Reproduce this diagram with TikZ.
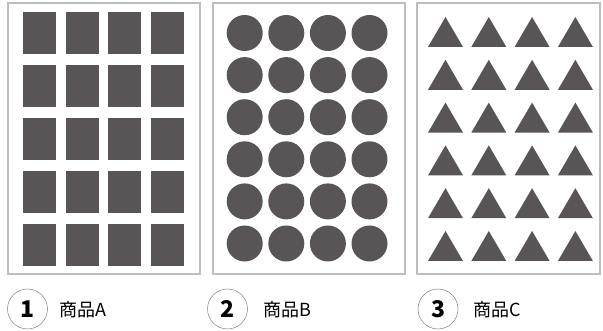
\documentclass[tikz,border=0pt]{standalone}
\usepackage{fontspec}
\newfontfamily\cjk{Noto Sans CJK JP}
\definecolor{shapegray}{RGB}{89,85,86}
\definecolor{framegray}{RGB}{190,190,190}
\definecolor{ringgray}{RGB}{130,130,130}
\begin{document}
\begin{tikzpicture}[x=1pt,y=-1pt,
  panel/.style={draw=framegray,line width=1.3pt,fill=white},
  piece/.style={fill=shapegray},
  numring/.style={circle,draw=ringgray,line width=0.5pt,minimum size=40pt,inner sep=0pt,font=\cjk\bfseries\fontsize{23}{23}\selectfont},
  caption/.style={anchor=west,inner sep=0pt,font=\cjk\fontsize{18}{18}\selectfont}]
\useasboundingbox (0,0) rectangle (603,331);
\fill[white] (0,0) rectangle (603,331);
% panels
\draw[panel] (8,3) rectangle (200,274);
\draw[panel] (213,3) rectangle (405,274);
\draw[panel] (417,3) rectangle (600,274);
% rectangles
\foreach \i in {0,...,3}{
  \foreach \j in {0,...,4}{
    \fill[piece] ({23+42.5*\i},{12+53*\j}) rectangle ++(33,42);
  }
}
% circles
\foreach \i in {0,...,3}{
  \foreach \j in {0,...,5}{
    \fill[piece] ({244.7+41.6*\i},{33+42.1*\j}) circle[radius=18];
  }
}
% triangles
\foreach \i in {0,...,3}{
  \foreach \j in {0,...,5}{
    \fill[piece] ({428+43.3*\i},{47+42.8*\j}) -- ++(35,0) -- ++(-17.5,-30) -- cycle;
  }
}
% labels
\node[numring] (n1) at (27.5,309) {1};
\node[caption] (t1) at (59,309.5) {商品A};
\node[numring] (n2) at (227.5,309) {2};
\node[caption] (t2) at (263,309.5) {商品B};
\node[numring] (n3) at (438,309) {3};
\node[caption] (t3) at (473,309.5) {商品C};
\end{tikzpicture}
\end{document}
